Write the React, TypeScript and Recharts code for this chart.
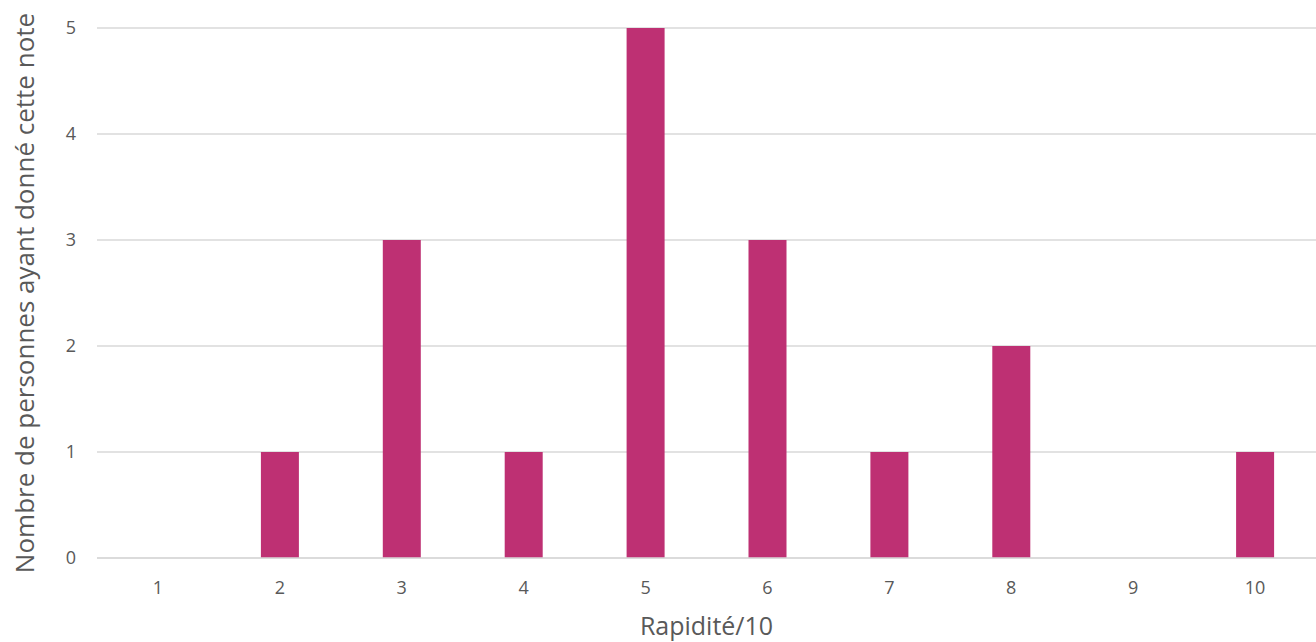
import { BarChart, Bar, XAxis, YAxis, CartesianGrid } from "recharts";

const notes = ["1", "2", "3", "4", "5", "6", "7", "8", "9", "10"];
const personnes = [0, 1, 3, 1, 5, 3, 1, 2, 0, 1];
const yTicks = [0, 1, 2, 3, 4, 5];

const data = notes.map((note, i) => ({ note, count: personnes[i] }));

const FONT = "'Open Sans', sans-serif";
const TEXT = "#595959";

export default function App() {
  return (
    <div style={{ position: "absolute", left: 0, top: 0, width: 1316, height: 642, background: "#fff" }}>
      <BarChart
        width={1316}
        height={642}
        data={data}
        margin={{ top: 28, right: 0, bottom: 0, left: 0 }}
        barCategoryGap={0}
      >
        <CartesianGrid stroke="#D9D9D9" strokeWidth={1.5} vertical={false} />
        <XAxis
          dataKey="note"
          axisLine={{ stroke: "#D9D9D9", strokeWidth: 1.5 }}
          tickLine={false}
          tickMargin={17}
          height={84}
          tick={{ fontSize: 18, fill: TEXT, fontFamily: FONT }}
          label={{
            value: "Rapidité/10",
            position: "insideBottom",
            offset: 7,
            fontSize: 25,
            fill: TEXT,
            fontFamily: FONT,
          }}
        />
        <YAxis
          width={97}
          domain={[0, 5]}
          ticks={yTicks}
          axisLine={false}
          tickLine={false}
          tickMargin={15}
          tick={{ fontSize: 18, fill: TEXT, fontFamily: FONT }}
          label={{
            value: "Nombre de personnes ayant donné cette note",
            angle: -90,
            position: "insideLeft",
            offset: 25,
            textAnchor: "middle",
            fontSize: 26,
            fill: TEXT,
            fontFamily: FONT,
          }}
        />
        <Bar dataKey="count" fill="#BE3073" barSize={38} isAnimationActive={false} />
      </BarChart>
    </div>
  );
}
